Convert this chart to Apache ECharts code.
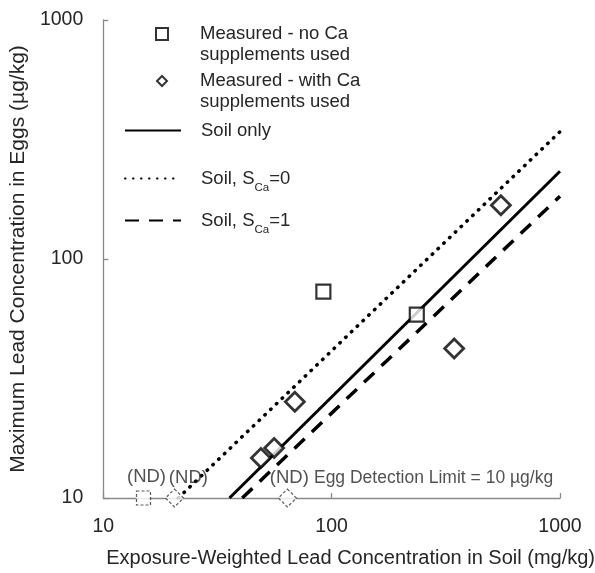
<!DOCTYPE html>
<html><head><meta charset="utf-8">
<script src="https://cdn.jsdelivr.net/npm/echarts@6/dist/echarts.min.js"></script>
<style>html,body{margin:0;padding:0;background:#fff}#c{width:595px;height:573px}</style>
</head><body><div id="c"></div>
<script>
// Data (soil mg/kg, egg µg/kg)
const noCa = [[92, 73], [236, 58.5]];
const withCa = [[49, 14.7], [56, 16.2], [69, 25.3], [344, 42.2], [551, 168]];
const noCaND = [[15, 10]];
const withCaND = [[20.5, 10], [64, 10]];
const soilOnly = [[35.7, 10], [1000, 233]];
const soilSca0 = [[21.3, 10], [1000, 341]];
const soilSca1 = [[40.6, 10], [1000, 183]];
const xTicks = [10, 100, 1000];
const yTicks = [10, 100, 1000];

const FONT = '"Liberation Sans", Arial, sans-serif';
const TXT = '#262626';
const AX = '#8a8a8a';

const ndLabels = [
  { show: true, formatter: '(ND)', position: [4, -20], align: 'left' },
  { show: true, formatter: '{a|(ND)} {b|Egg Detection Limit = 10 µg/kg}', position: [-8, -20], align: 'left',
    rich: { a: { fontSize: 18.5, fontFamily: FONT, color: TXT }, b: { fontSize: 17.5, fontFamily: FONT, color: TXT } } }
];

const chart = echarts.init(document.getElementById('c'), null, { renderer: 'canvas' });
const names = ['Measured - no Ca supplements used', 'Measured - with Ca supplements used', 'Soil only', 'Soil, Sca=0', 'Soil, Sca=1'];
const LH = 21;
const richSub = {
  n: { fontSize: 18.5, fontFamily: FONT, color: TXT, lineHeight: LH },
  s: { fontSize: 11.5, fontFamily: FONT, color: TXT, verticalAlign: 'bottom', lineHeight: LH, padding: [0, 0, -5, 0] }
};
function mkLegend(name, left, top, w, h, pad, two, hideSym) {
  const l = {
    data: [name], left: left, top: top, itemWidth: w, itemHeight: h, orient: 'vertical',
    padding: 0, selectedMode: false,
    textStyle: { fontSize: 18.5, fontFamily: FONT, color: TXT, padding: [two ? LH : 0, 0, 0, pad], lineHeight: LH, rich: richSub },
    formatter: function (n) {
      if (n === names[0]) return 'Measured - no Ca\nsupplements used';
      if (n === names[1]) return 'Measured - with Ca\nsupplements used';
      if (n === names[3]) return '{n|Soil, S}{s|Ca}{n|=0}';
      if (n === names[4]) return '{n|Soil, S}{s|Ca}{n|=1}';
      return n;
    }
  };
  if (hideSym) l.itemStyle = { opacity: 0 };
  return l;
}

chart.setOption({
  animation: false,
  grid: { left: 97, right: 35, top: 20, bottom: 73, containLabel: false },
  legend: [
    mkLegend(names[0], 155, 34 - 1.5 * LH, 12, 12, 27, true, false),
    mkLegend(names[1], 156, 81 - 1.5 * LH, 10, 10, 28, true, false),
    mkLegend(names[2], 124, 120, 56, 18, 15, false, true),
    mkLegend(names[3], 124, 168, 56, 18, 15, false, true),
    mkLegend(names[4], 124, 210, 56, 18, 15, false, true)
  ],
  xAxis: {
    type: 'log', logBase: 10, min: xTicks[0], max: xTicks[xTicks.length - 1],
    name: 'Exposure-Weighted Lead Concentration in Soil (mg/kg)', nameLocation: 'middle', nameGap: 50,
    nameTextStyle: { fontSize: 20, fontFamily: FONT, color: TXT, padding: [0, 0, 0, 38] },
    axisLine: { lineStyle: { color: AX, width: 1.3 } },
    axisTick: { inside: true, length: 5, lineStyle: { color: AX, width: 1.3 } },
    axisLabel: { fontSize: 19.5, fontFamily: FONT, color: TXT, margin: 19, formatter: v => String(v) },
    splitLine: { show: false }, minorTick: { show: false }
  },
  yAxis: {
    type: 'log', logBase: 10, min: yTicks[0], max: yTicks[yTicks.length - 1],
    name: 'Maximum Lead Concentration in Eggs (µg/kg)', nameLocation: 'middle', nameGap: 57,
    nameTextStyle: { fontSize: 21, fontFamily: FONT, color: TXT },
    axisLine: { show: true, lineStyle: { color: AX, width: 1.3 } },
    axisTick: { inside: true, length: 5, lineStyle: { color: AX, width: 1.3 } },
    axisLabel: { fontSize: 19.5, fontFamily: FONT, color: TXT, margin: 20, formatter: v => String(v) },
    splitLine: { show: false }, minorTick: { show: false }
  },
  series: [
    { name: names[2], type: 'line', data: soilOnly, symbol: 'none', z: 2,
      lineStyle: { color: '#000', width: 3, type: 'solid' }, itemStyle: { color: '#000' } },
    { name: names[3], type: 'line', data: soilSca0, symbol: 'none', z: 2,
      lineStyle: { color: '#000', width: 3.5, type: [0.5, 7.5], cap: 'round' }, itemStyle: { color: '#000' } },
    { name: names[4], type: 'line', data: soilSca1, symbol: 'none', z: 2,
      lineStyle: { color: '#000', width: 3.5, type: [14, 10] }, itemStyle: { color: '#000' } },
    { name: names[0], type: 'scatter', data: noCa, symbol: 'rect', symbolSize: 14, z: 3,
      itemStyle: { color: '#fff', borderColor: '#000', borderWidth: 2.2 } },
    { name: names[1], type: 'scatter', data: withCa, symbol: 'diamond', symbolSize: 19, z: 3,
      itemStyle: { color: '#fff', borderColor: '#000', borderWidth: 2.8 } },
    { name: 'noCaND', type: 'scatter', data: noCaND, symbol: 'rect', symbolSize: 14, z: 3,
      itemStyle: { color: '#fff', borderColor: '#333', borderWidth: 1.2, borderType: [3, 2] },
      label: { show: true, formatter: '(ND)', position: 'top', distance: 4, offset: [3, 0], fontSize: 18.5, fontFamily: FONT, color: TXT } },
    { name: 'withCaND', type: 'scatter', symbol: 'diamond', symbolSize: 18, z: 3,
      data: withCaND.map((p, i) => ({ value: p, label: ndLabels[i] })),
      itemStyle: { color: '#fff', borderColor: '#333', borderWidth: 1.2, borderType: [3, 2] },
      label: { fontSize: 18.5, fontFamily: FONT, color: TXT } }
  ]
});
</script></body></html>
